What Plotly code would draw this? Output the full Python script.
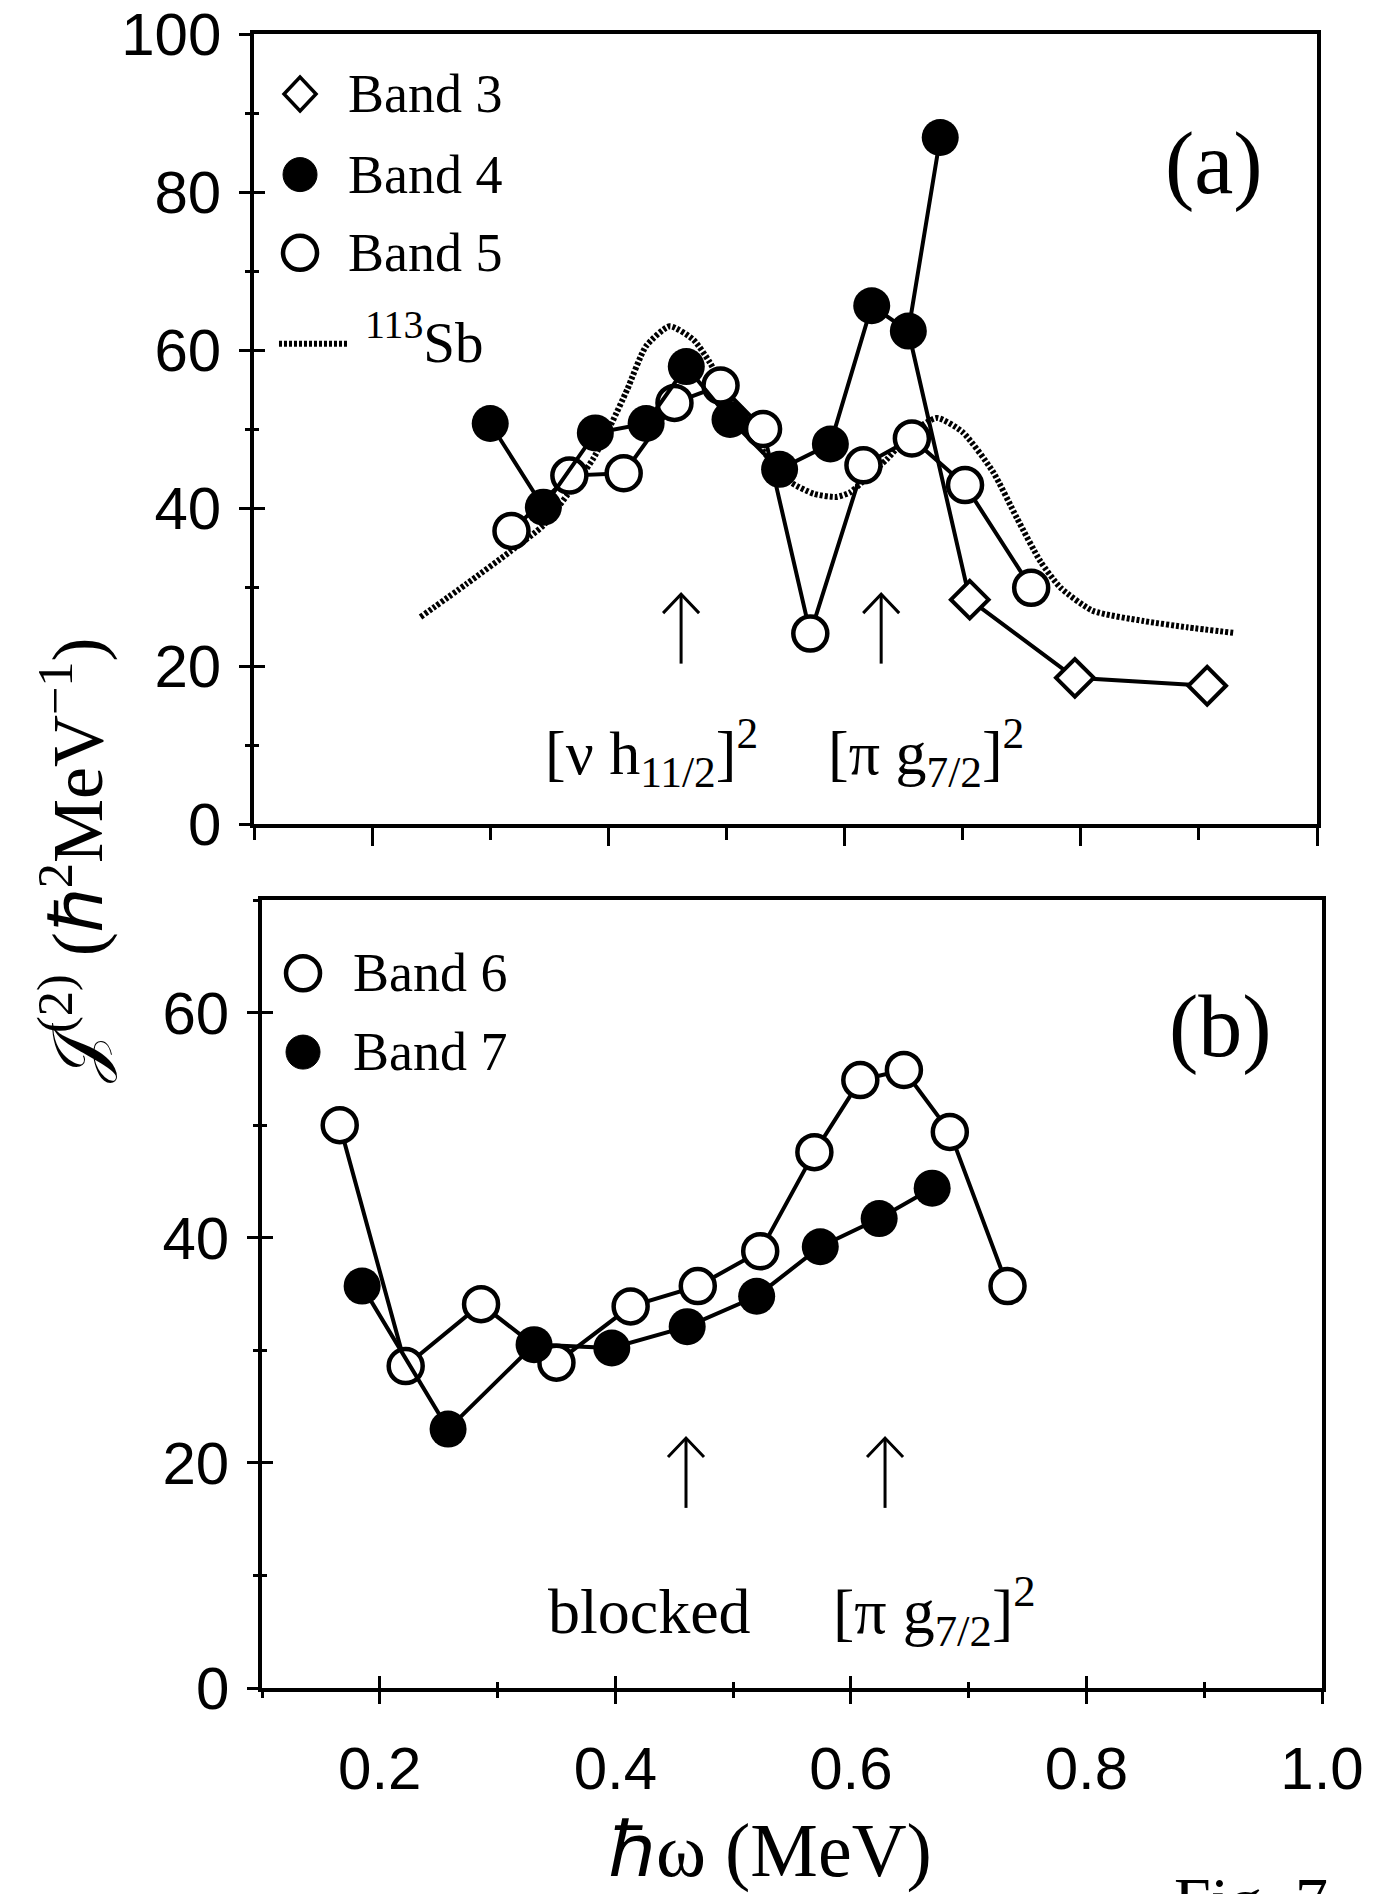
import plotly.graph_objects as go

# ---------------- data : panel (a) ----------------
band3_x = [0.706, 0.795, 0.907]
band3_y = [28.4, 18.5, 17.5]
band3_from_band4 = 9          # band 3 line starts at this Band 4 point

band4_x = [0.300, 0.345, 0.389, 0.432, 0.466, 0.503, 0.545, 0.588, 0.623, 0.654, 0.681]
band4_y = [50.7, 40.1, 49.5, 50.7, 57.9, 51.2, 44.9, 48.1, 65.6, 62.4, 86.9]

band5_x = [0.318, 0.367, 0.413, 0.456, 0.495, 0.531, 0.571, 0.616, 0.657, 0.702, 0.758]
band5_y = [37.1, 44.1, 44.4, 53.3, 55.5, 50.0, 24.1, 45.4, 48.8, 42.9, 29.9]

sb113_x = [0.241, 0.280, 0.317, 0.345, 0.365, 0.387, 0.403, 0.416, 0.432, 0.452, 0.472,
           0.486, 0.500, 0.520, 0.540, 0.555, 0.574, 0.593, 0.605, 0.620, 0.636, 0.655,
           0.678, 0.700, 0.726, 0.746, 0.766, 0.783, 0.810, 0.853, 0.890, 0.929]
sb113_y = [26.2, 30.4, 34.5, 37.8, 41.6, 46.2, 50.8, 55.0, 60.5, 63.0, 61.3,
           58.4, 54.5, 49.5, 45.5, 43.2, 41.8, 41.4, 42.0, 44.0, 46.2, 49.3,
           51.4, 49.6, 44.5, 38.7, 33.2, 29.9, 27.0, 25.7, 24.9, 24.2]

arrows_a_x = [0.4616, 0.631]
arrows_a_tip, arrows_a_tail = 29.1, 20.3
labels_a = ["[ν h<sub>11/2</sub>]<sup>2</sup>", "[π g<sub>7/2</sub>]<sup>2</sup>"]
labels_a_x = [0.345, 0.584]

# ---------------- data : panel (b) ----------------
band6_x = [0.166, 0.222, 0.286, 0.350, 0.413, 0.470, 0.523, 0.569, 0.608, 0.645, 0.684, 0.733]
band6_y = [50.0, 28.6, 34.1, 28.9, 33.9, 35.7, 38.8, 47.6, 54.0, 54.9, 49.4, 35.7]

band7_x = [0.185, 0.258, 0.331, 0.397, 0.461, 0.520, 0.574, 0.624, 0.669]
band7_y = [35.7, 23.0, 30.5, 30.2, 32.1, 34.8, 39.2, 41.7, 44.4]

arrows_b_x = [0.460, 0.629]
arrows_b_tip, arrows_b_tail = 22.2, 16.0
labels_b = ["blocked", "[π g<sub>7/2</sub>]<sup>2</sup>"]
labels_b_x = [0.341, 0.583]

# axis ticks
y_ticks_a = [0, 20, 40, 60, 80, 100]
y_ticks_b = [0, 20, 40, 60]
x_ticks = [0.2, 0.4, 0.6, 0.8, 1.0]

# ---------------- styling ----------------
W, H = 1387, 1894
SERIF = "Liberation Serif, Times New Roman, serif"
SANS = "Liberation Sans, Arial, sans-serif"
TICKSIZE = 60
LW = 4
MS = 34
OPEN = dict(symbol="circle", size=MS, color="white", line=dict(color="black", width=4.5))
FILL = dict(symbol="circle", size=MS + 3, color="black", line=dict(color="black", width=0))
DIAM = dict(symbol="diamond", size=29, color="white", line=dict(color="black", width=4))
DOTTED = dict(color="black", width=6, dash="3px,2px")

fig = go.Figure()

# panel (a)
fig.add_trace(go.Scatter(x=sb113_x, y=sb113_y, mode="lines", xaxis="x", yaxis="y",
                         line=dict(shape="spline", smoothing=0.6, **DOTTED),
                         showlegend=False, hoverinfo="skip"))
fig.add_trace(go.Scatter(x=band5_x, y=band5_y, mode="lines+markers", xaxis="x", yaxis="y",
                         line=dict(color="black", width=LW), marker=OPEN, showlegend=False))
fig.add_trace(go.Scatter(x=[band4_x[band3_from_band4]] + band3_x,
                         y=[band4_y[band3_from_band4]] + band3_y,
                         mode="lines", xaxis="x", yaxis="y",
                         line=dict(color="black", width=LW), showlegend=False))
fig.add_trace(go.Scatter(x=band3_x, y=band3_y, mode="markers", xaxis="x", yaxis="y",
                         marker=DIAM, showlegend=False))
fig.add_trace(go.Scatter(x=band4_x, y=band4_y, mode="lines+markers", xaxis="x", yaxis="y",
                         line=dict(color="black", width=LW), marker=FILL, showlegend=False))

# panel (b)
fig.add_trace(go.Scatter(x=band6_x, y=band6_y, mode="lines+markers", xaxis="x2", yaxis="y2",
                         line=dict(color="black", width=LW), marker=OPEN, showlegend=False))
fig.add_trace(go.Scatter(x=band7_x, y=band7_y, mode="lines+markers", xaxis="x2", yaxis="y2",
                         line=dict(color="black", width=LW), marker=FILL, showlegend=False))

# empty traces so that the overlay (inner-tick) axes are drawn
fig.add_trace(go.Scatter(x=[None], y=[None], xaxis="x", yaxis="y3", showlegend=False))
fig.add_trace(go.Scatter(x=[None], y=[None], xaxis="x3", yaxis="y4", showlegend=False))


def px_x(p):
    return p / W


def px_y(p):
    return 1 - p / H


dom_xa = [px_x(254), px_x(1317)]
dom_ya = [px_y(824), px_y(34)]
dom_xb = [px_x(262), px_x(1322)]
dom_yb = [px_y(1688), px_y(900)]

axis_common = dict(showgrid=False, zeroline=False, showline=True, linecolor="black",
                   linewidth=3.5, mirror=True, tickcolor="black", tickwidth=3,
                   ticklabeloverflow="allow", automargin=False)
over_common = dict(showgrid=False, zeroline=False, showline=False, showticklabels=False,
                   tickcolor="black", tickwidth=3, automargin=False)


def minor(kind, ln, dt):
    return dict(ticks=kind, ticklen=ln, tickwidth=3, tickcolor="black", dtick=dt, tick0=0,
                showgrid=False)


fig.update_layout(
    width=W, height=H, margin=dict(l=0, r=0, t=0, b=0, autoexpand=False),
    paper_bgcolor="white", plot_bgcolor="white",
    xaxis=dict(domain=dom_xa, range=[0.1, 1.0], anchor="y", tickmode="array",
               tickvals=x_ticks, ticks="outside", ticklen=18, showticklabels=False,
               minor=minor("outside", 12, 0.1), **axis_common),
    yaxis=dict(domain=dom_ya, range=[0, 100], anchor="x", tickmode="array",
               tickvals=y_ticks_a, ticks="outside", ticklen=11,
               tickfont=dict(family=SANS, size=TICKSIZE, color="black"), ticklabelstandoff=6,
               minor=minor("outside", 5, 10), **axis_common),
    yaxis3=dict(overlaying="y", anchor="x", side="left", range=[0, 100], tickmode="array",
                tickvals=y_ticks_a, ticks="inside", ticklen=11,
                minor=minor("inside", 5, 10), **over_common),
    xaxis2=dict(domain=dom_xb, range=[0.1, 1.0], anchor="y2", tickmode="array",
                tickvals=x_ticks, ticks="outside", ticklen=12, tickformat=".1f",
                tickfont=dict(family=SANS, size=TICKSIZE, color="black"), ticklabelstandoff=13,
                minor=minor("outside", 6, 0.1), **axis_common),
    xaxis3=dict(overlaying="x2", anchor="y2", side="bottom", range=[0.1, 1.0], tickmode="array",
                tickvals=x_ticks, ticks="inside", ticklen=12,
                minor=minor("inside", 6, 0.1), **over_common),
    yaxis2=dict(domain=dom_yb, range=[0, 70], anchor="x2", tickmode="array",
                tickvals=y_ticks_b, ticks="outside", ticklen=11,
                tickfont=dict(family=SANS, size=TICKSIZE, color="black"), ticklabelstandoff=6,
                minor=minor("outside", 5, 10), **axis_common),
    yaxis4=dict(overlaying="y2", anchor="x3", side="left", range=[0, 70], tickmode="array",
                tickvals=y_ticks_b, ticks="inside", ticklen=11,
                minor=minor("inside", 5, 10), **over_common),
)

# ---------------- legend glyphs and arrows (layout decorations) ----------------
shapes = []


def circle_shape(xr, yr, xa, ya, filled, r=17):
    return dict(type="circle", xref=xr, yref=yr, xsizemode="pixel", ysizemode="pixel",
                xanchor=xa, yanchor=ya, x0=-r, x1=r, y0=-r, y1=r,
                fillcolor="black" if filled else "white",
                line=dict(color="black", width=1 if filled else 4.5), layer="above")


legend_a_y = [0.924, 0.822, 0.723]
shapes.append(dict(type="path", xref="x domain", yref="y domain", xsizemode="pixel", ysizemode="pixel",
                   xanchor=0.0433, yanchor=legend_a_y[0], path="M0,-17 L16,0 L0,17 L-16,0 Z",
                   fillcolor="white", line=dict(color="black", width=3.5), layer="above"))
shapes.append(circle_shape("x domain", "y domain", 0.0433, legend_a_y[1], True))
shapes.append(circle_shape("x domain", "y domain", 0.0433, legend_a_y[2], False))
shapes.append(dict(type="line", xref="x domain", yref="y domain", x0=0.0235, x1=0.0884,
                   y0=0.608, y1=0.608, line=DOTTED))

legend_b_y = [0.907, 0.807]
shapes.append(circle_shape("x2 domain", "y2 domain", 0.0387, legend_b_y[0], False))
shapes.append(circle_shape("x2 domain", "y2 domain", 0.0387, legend_b_y[1], True))


def arrow(xr, yr, xa, tip, tail):
    return [dict(type="line", xref=xr, yref=yr, x0=xa, x1=xa, y0=tail, y1=tip,
                 line=dict(color="black", width=3)),
            dict(type="path", xref=xr, yref=yr, xsizemode="pixel", ysizemode="pixel",
                 xanchor=xa, yanchor=tip, path="M-18,-19 L0,0 L18,-19",
                 line=dict(color="black", width=3))]


for xa in arrows_a_x:
    shapes += arrow("x", "y", xa, arrows_a_tip, arrows_a_tail)
for xa in arrows_b_x:
    shapes += arrow("x2", "y2", xa, arrows_b_tip, arrows_b_tail)

fig.update_layout(shapes=shapes)

# ---------------- text ----------------
ann = []


def txt(text, x, y, xref, yref, size, xanchor="left", yanchor="middle", family=SERIF, angle=0):
    ann.append(dict(text=text, x=x, y=y, xref=xref, yref=yref, showarrow=False,
                    xanchor=xanchor, yanchor=yanchor, textangle=angle,
                    font=dict(family=family, size=size, color="black")))


for name, yy in zip(["Band 3", "Band 4", "Band 5"], legend_a_y):
    txt(name, 0.0865, yy, "x domain", "y domain", 54)
txt("<sup>113</sup>Sb", 0.1025, 0.615, "x domain", "y domain", 57)

for name, yy in zip(["Band 6", "Band 7"], legend_b_y):
    txt(name, 0.084, yy, "x2 domain", "y2 domain", 54)

txt("(a)", 0.903, 0.836, "x domain", "y domain", 88, xanchor="center")
txt("(b)", 0.904, 0.839, "x2 domain", "y2 domain", 88, xanchor="center")

for t, xa in zip(labels_a, labels_a_x):
    txt(t, xa, 9.0, "x", "y", 62)
for t, xa in zip(labels_b, labels_b_x):
    txt(t, xa, 6.8, "x2", "y2", 64)

txt("𝒥<sup>(2)</sup> (ℏ<sup>2</sup>MeV<sup>−1</sup>)", 72 / W, px_y(860), "paper", "paper", 72,
    xanchor="center", angle=-90)
txt("ℏω (MeV)", 770 / W, px_y(1850), "paper", "paper", 76, xanchor="center")
txt("Fig. 7", 1172 / W, px_y(1862), "paper", "paper", 66, yanchor="top")

fig.update_layout(annotations=ann)

fig.write_html("out.html")
